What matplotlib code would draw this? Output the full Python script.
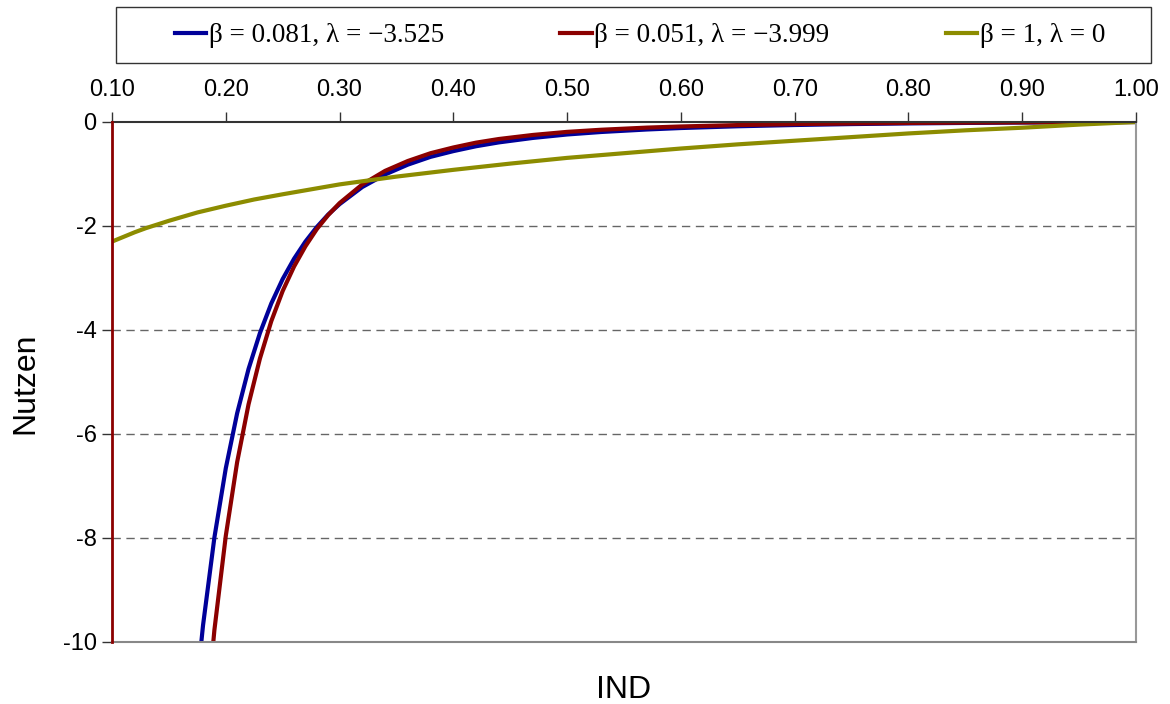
import numpy as np
import matplotlib
matplotlib.use("Agg")
import matplotlib.pyplot as plt
from matplotlib.patches import Rectangle

# values
x_blue = [0.17, 0.18, 0.19, 0.20, 0.21, 0.22, 0.23, 0.24, 0.25, 0.26, 0.27, 0.28, 0.29, 0.30,
          0.32, 0.34, 0.36, 0.38, 0.40, 0.42, 0.44, 0.47, 0.50, 0.53, 0.57, 0.60, 0.65,
          0.70, 0.75, 0.80, 0.85, 0.90, 0.95, 1.00]
y_blue = [-11.83, -9.68, -7.99, -6.66, -5.60, -4.75, -4.06, -3.49, -3.02, -2.63, -2.30, -2.02,
          -1.78, -1.58, -1.25, -1.01, -0.82, -0.67, -0.56, -0.466, -0.392, -0.306, -0.24,
          -0.192, -0.144, -0.116, -0.082, -0.058, -0.040, -0.027, -0.018, -0.010, -0.005, 0.0]

x_red = [0.18, 0.19, 0.20, 0.21, 0.22, 0.23, 0.24, 0.25, 0.26, 0.27, 0.28, 0.29, 0.30,
         0.32, 0.34, 0.36, 0.38, 0.40, 0.42, 0.44, 0.47, 0.50, 0.53, 0.57, 0.60, 0.65,
         0.70, 0.75, 0.80, 0.85, 0.90, 0.95, 1.00]
y_red = [-12.14, -9.77, -7.96, -6.54, -5.43, -4.55, -3.83, -3.25, -2.78, -2.39, -2.06, -1.79,
         -1.56, -1.20, -0.94, -0.75, -0.60, -0.49, -0.397, -0.327, -0.249, -0.19, -0.149,
         -0.108, -0.086, -0.059, -0.040, -0.028, -0.018, -0.012, -0.007, -0.003, 0.0]

x_green = [0.10, 0.11, 0.12, 0.13, 0.14, 0.15, 0.175, 0.20, 0.225, 0.25, 0.30, 0.35, 0.40,
           0.45, 0.50, 0.55, 0.60, 0.65, 0.70, 0.75, 0.80, 0.85, 0.90, 0.95, 1.00]
y_green = [-2.30, -2.21, -2.12, -2.04, -1.97, -1.90, -1.74, -1.61, -1.49, -1.39, -1.20, -1.05,
           -0.92, -0.80, -0.69, -0.60, -0.51, -0.43, -0.36, -0.29, -0.22, -0.16, -0.11,
           -0.05, 0.0]

labels = ['β = 0.081, λ = −3.525',
          'β = 0.051, λ = −3.999',
          'β = 1, λ = 0']
xticks = [0.10, 0.20, 0.30, 0.40, 0.50, 0.60, 0.70, 0.80, 0.90, 1.00]
yticks = [0, -2, -4, -6, -8, -10]

plt.rcParams['font.family'] = ['Liberation Sans', 'DejaVu Sans']

fig = plt.figure(figsize=(11.7, 7.04), dpi=100)
ax = fig.add_axes([112/1170, 1-642/704, (1136-112)/1170, (642-122)/704])

l1, = ax.plot(x_blue, y_blue, color='#000099', lw=3)
l2, = ax.plot(x_red, y_red, color='#8b0000', lw=3)
l3, = ax.plot(x_green, y_green, color='#8c8c00', lw=3)

ax.set_xlim(0.10, 1.00)
ax.set_ylim(-10, 0)
ax.xaxis.tick_top()
ax.set_xticks(xticks)
ax.set_xticklabels(['%.2f' % v for v in xticks])
ax.set_yticks(yticks)
ax.set_yticklabels(['%d' % v for v in yticks])
ax.tick_params(axis='both', labelsize=17, length=7, width=1, color='#333333')
ax.tick_params(axis='x', pad=8)
ax.tick_params(axis='y', pad=4)

for yv in [-2, -4, -6, -8]:
    ax.axhline(yv, color='#666666', lw=1, ls=(0, (6, 4)), zorder=0)

ax.spines['top'].set_color('#333333')
ax.spines['top'].set_linewidth(1.5)
ax.spines['left'].set_color('#8b0000')
ax.spines['left'].set_linewidth(2)
ax.spines['left'].set_zorder(5)
ax.spines['bottom'].set_color('#888888')
ax.spines['bottom'].set_linewidth(1.5)
ax.spines['right'].set_color('#999999')
ax.spines['right'].set_linewidth(1.5)

fig.text(25/1170, 1-383/704, 'Nutzen', fontsize=23, rotation=90, ha='center', va='center')
fig.text(624/1170, 1-690/704, 'IND', fontsize=23, ha='center', va='center')

fig.patches.append(Rectangle((116/1170, 1-63/704), (1151-116)/1170, 56/704,
                             transform=fig.transFigure, fill=False,
                             edgecolor='#333333', lw=1))
fig.legend([l1, l2, l3], labels, loc='center', frameon=False, ncol=3,
           bbox_to_anchor=(640/1170, 1-36/704),
           prop={'family': 'Liberation Serif', 'size': 19.5},
           handlelength=1.15, handletextpad=0.1, columnspacing=4.3)

fig.savefig('out.png', dpi=100)
